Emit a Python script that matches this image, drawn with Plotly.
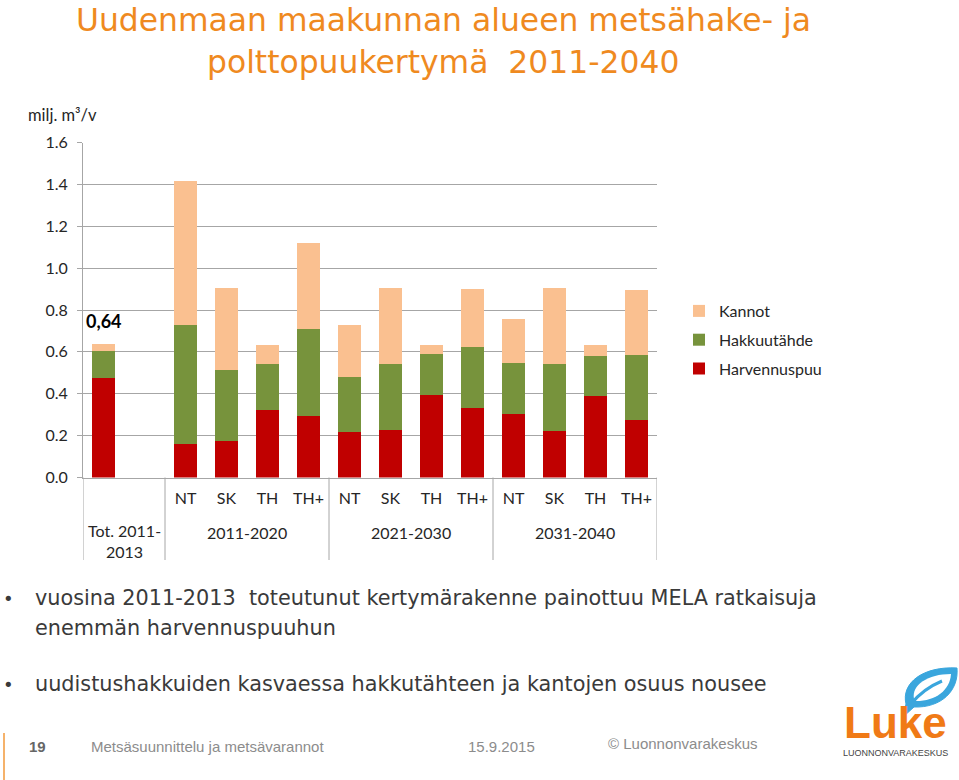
import plotly.graph_objects as go

W, H = 959, 780

# ---------------- data ----------------
periods = ["Tot. 2011-2013", "2011-2020", "2011-2020", "2011-2020", "2011-2020",
           "2021-2030", "2021-2030", "2021-2030", "2021-2030",
           "2031-2040", "2031-2040", "2031-2040", "2031-2040"]
scenarios = ["", "NT", "SK", "TH", "TH+", "NT", "SK", "TH", "TH+", "NT", "SK", "TH", "TH+"]
harvennuspuu = [0.475, 0.162, 0.175, 0.322, 0.295, 0.215, 0.226, 0.396, 0.330, 0.301, 0.223, 0.390, 0.276]
hakkuutahde  = [0.127, 0.567, 0.339, 0.221, 0.414, 0.263, 0.315, 0.195, 0.294, 0.247, 0.318, 0.188, 0.311]
kannot       = [0.038, 0.685, 0.389, 0.092, 0.410, 0.251, 0.362, 0.044, 0.276, 0.207, 0.362, 0.057, 0.309]
group_labels = ["Tot. 2011-<br>2013", "2011-2020", "2021-2030", "2031-2040"]
y_ticks = [0.0, 0.2, 0.4, 0.6, 0.8, 1.0, 1.2, 1.4, 1.6]
total_label = "0,64"

# category slots: the "Tot." category occupies two slots (one empty), then 12 scenario slots
x = [0] + [i + 1 for i in range(1, len(scenarios))]
group_centers = [0.5, 3.5, 7.5, 11.5]
dividers = [-0.5, 1.5, 5.5, 9.5, 13.5]

CHART_FONT = "Lato, sans-serif"
SLIDE_FONT = "DejaVu Sans, Liberation Sans, sans-serif"
GRID = "#A6A6A6"
ORANGE = "#EF8A1F"
CTXT = "#262626"


def px(xp, yp):
    return xp / W, 1 - yp / H


fig = go.Figure()
series = [("Harvennuspuu", harvennuspuu, "#C00000", 3),
          ("Hakkuutähde", hakkuutahde, "#77933C", 2),
          ("Kannot", kannot, "#FAC090", 1)]
for name, vals, col, rank in series:
    fig.add_trace(go.Bar(x=x, y=vals, name=name, marker=dict(color=col, line=dict(width=0)),
                         legendgroup=name, legendrank=rank))

# plot area
x0p, x1p = 83, 657
ytop, ybot = 142.5, 477.5
fig.update_layout(
    width=W, height=H,
    margin=dict(l=0, r=0, t=0, b=0, autoexpand=False),
    paper_bgcolor="white", plot_bgcolor="white",
    barmode="stack", bargap=0.44,
    showlegend=True,
    legend=dict(x=px(679, 0)[0], y=px(0, 294)[1], xanchor="left", yanchor="top",
                traceorder="grouped", tracegroupgap=5,
                font=dict(family=CHART_FONT, size=16, color=CTXT),
                itemwidth=30, bgcolor="rgba(0,0,0,0)"),
    xaxis=dict(domain=[x0p / W, x1p / W], range=[-0.5, 13.5], automargin=False,
               tickmode="array", tickvals=x[1:], ticktext=scenarios[1:],
               ticks="outside", ticklen=6, tickcolor="rgba(0,0,0,0)",
               tickfont=dict(family=CHART_FONT, size=16, color=CTXT),
               showline=True, linecolor=GRID, linewidth=1, showgrid=False, zeroline=False),
    yaxis=dict(domain=[1 - ybot / H, 1 - ytop / H], range=[0, 1.6], automargin=False,
               tickmode="array", tickvals=y_ticks, ticktext=[f"{v:.1f}" for v in y_ticks],
               ticks="outside", ticklen=5, tickcolor=GRID, ticklabelstandoff=6,
               tickfont=dict(family=CHART_FONT, size=16, color=CTXT),
               showgrid=True, gridcolor=GRID, gridwidth=1,
               showline=True, linecolor=GRID, zeroline=False),
    font=dict(family=CHART_FONT),
)

# category dividers below axis
shapes = []
for xv in dividers:
    shapes.append(dict(type="line", xref="x", yref="paper", x0=xv, x1=xv,
                       y0=1 - ybot / H, y1=1 - 560 / H, line=dict(color=GRID, width=1)))

ann = []
# group labels
for i, (gx, gl) in enumerate(zip(group_centers, group_labels)):
    yy = 541 if i == 0 else 532
    ann.append(dict(x=gx, y=1 - yy / H, xref="x", yref="paper", text=gl, showarrow=False,
                    font=dict(family=CHART_FONT, size=16, color=CTXT),
                    xanchor="center", yanchor="middle"))

# total label
ann.append(dict(x=x[0], y=0.748, xref="x", yref="y", text=f"<b>{total_label}</b>", showarrow=False,
                font=dict(family=CHART_FONT, size=18, color="#000000"),
                xanchor="center", yanchor="middle"))

# unit label
ann.append(dict(x=px(26, 0)[0], y=px(0, 115)[1], xref="paper", yref="paper", text="milj. m³/v",
                showarrow=False, font=dict(family=CHART_FONT, size=16.5, color=CTXT),
                xanchor="left", yanchor="middle"))

# title
for yy, t in [(20, "Uudenmaan maakunnan alueen metsähake- ja"), (62, "polttopuukertymä  2011-2040")]:
    ann.append(dict(x=px(443, 0)[0], y=px(0, yy)[1], xref="paper", yref="paper",
                    text=t, showarrow=False,
                    font=dict(family=SLIDE_FONT, size=31.4, color=ORANGE),
                    xanchor="center", yanchor="middle"))

# bullets
TXT = "#3A3A3A"
bullets = [(598, "vuosina 2011-2013  toteutunut kertymärakenne painottuu MELA ratkaisuja", True),
           (628, "enemmän harvennuspuuhun", False),
           (684, "uudistushakkuiden kasvaessa hakkutähteen ja kantojen osuus nousee", True)]
for yy, t, dot in bullets:
    ann.append(dict(x=px(33, 0)[0], y=px(0, yy)[1], xref="paper", yref="paper", text=t,
                    showarrow=False, font=dict(family=SLIDE_FONT, size=20.8, color=TXT),
                    xanchor="left", yanchor="middle"))
    if dot:
        ann.append(dict(x=px(1, 0)[0], y=px(0, yy)[1], xref="paper", yref="paper", text="•",
                        showarrow=False, font=dict(family=SLIDE_FONT, size=18, color=TXT),
                        xanchor="left", yanchor="middle"))

# footer
FOOT = "#8C8C8C"
NARROW = "Liberation Sans Narrow, Arial Narrow, Liberation Sans, sans-serif"
ann.append(dict(x=px(27, 0)[0], y=px(0, 746)[1], xref="paper", yref="paper", text="<b>19</b>",
                showarrow=False, font=dict(family=NARROW, size=15, color="#666666"),
                xanchor="left", yanchor="middle"))
for xx, yy, t in [(89, 746, "Metsäsuunnittelu ja metsävarannot"), (466, 746, "15.9.2015"),
                  (606, 743, "© Luonnonvarakeskus")]:
    ann.append(dict(x=px(xx, 0)[0], y=px(0, yy)[1], xref="paper", yref="paper",
                    text=t, showarrow=False,
                    font=dict(family=NARROW, size=15, color=FOOT), xanchor="left", yanchor="middle"))

# footer orange bar
xa, ya = px(4, 733)
xb, yb = px(4, 780)
shapes.append(dict(type="line", xref="paper", yref="paper", x0=xa, x1=xb, y0=ya, y1=yb,
                   line=dict(color="#F5B26B", width=2)))

# logo
ann.append(dict(x=px(895, 0)[0], y=px(0, 722)[1], xref="paper", yref="paper",
                text="<b>Luke</b>", showarrow=False,
                font=dict(family="Liberation Sans Narrow, Liberation Sans, sans-serif", size=44,
                          color="#F07A16"), xanchor="center", yanchor="middle"))
ann.append(dict(x=px(895, 0)[0], y=px(0, 753)[1], xref="paper", yref="paper",
                text="LUONNONVARAKESKUS", showarrow=False,
                font=dict(family=NARROW, size=9, color="#444444"), xanchor="center", yanchor="middle"))


def path(cmds):
    out = []
    for c in cmds:
        if isinstance(c, str):
            out.append(c)
        else:
            a, b = px(*c)
            out.append(f"{a:.5f},{b:.5f}")
    return " ".join(out)


BLUE = "#3AA6DD"
leaf_outer = path(["M", (906, 704), "C", (901, 683), (923, 666), (957, 668),
                   "C", (959, 691), (941, 708), (914, 707),
                   "L", (903, 717), "Z"])
leaf_inner = path(["M", (914, 699), "C", (911, 685), (928, 674), (951, 674),
                   "C", (950, 690), (936, 701), (916, 701), "Z"])
leaf_vein = path(["M", (911, 704), "C", (919, 694), (930, 686), (942, 681)])
shapes.append(dict(type="path", xref="paper", yref="paper", path=leaf_outer,
                   fillcolor=BLUE, line=dict(color=BLUE, width=1)))
shapes.append(dict(type="path", xref="paper", yref="paper", path=leaf_inner,
                   fillcolor="white", line=dict(color="white", width=0)))
shapes.append(dict(type="path", xref="paper", yref="paper", path=leaf_vein,
                   line=dict(color=BLUE, width=3)))

fig.update_layout(shapes=shapes, annotations=ann)
fig.write_html("out.html", config={"displayModeBar": False},
               post_script="document.body.style.margin='0';")
